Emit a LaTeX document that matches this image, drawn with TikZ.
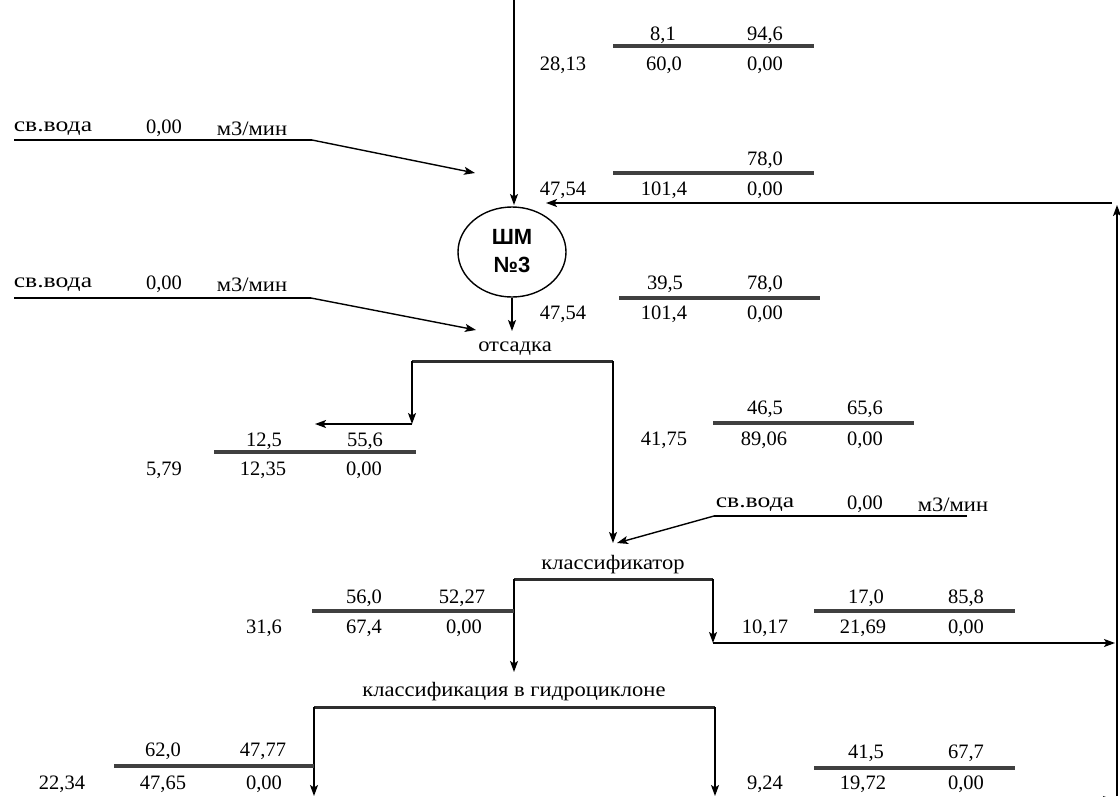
\documentclass[tikz,border=0pt]{standalone}
\usepackage{fontspec}
\setmainfont{Liberation Serif}
\newfontfamily\cyrwide{Liberation Serif}[FakeStretch=1.1]
\newfontfamily\cyrwider{Liberation Serif}[FakeStretch=1.25]
\newfontfamily\shmfont{Liberation Sans}
\usetikzlibrary{arrows.meta,shapes.geometric}
\begin{document}
\begin{tikzpicture}[x=1pt,y=-1pt,
  lbl/.style={inner sep=0pt, yshift=-1.5pt, font=\fontsize{20.5}{24}\selectfont},
  cyr/.style={inner sep=0pt, yshift=-1.5pt, font=\cyrwide\fontsize{20.5}{24}\selectfont},
  wat/.style={inner sep=0pt, yshift=-1.5pt, font=\cyrwider\fontsize{20.5}{24}\selectfont},
  tab/.style={line width=3.3pt, draw=black!75},
  proc/.style={line width=3pt, draw=black!82},
  con/.style={line width=1.4pt},
  arr/.style={con, -{Stealth[length=11pt,width=8pt,inset=2.5pt]}}]
\useasboundingbox[fill=white] (0,0) rectangle (1120,796);

% ---------- table 1 (top)
\node[lbl] (t1a) at (663,34) {8,1};
\node[lbl] (t1b) at (765,34) {94,6};
\draw[tab] (613,46) -- (814,46);
\node[lbl] (t1c) at (563,64) {28,13};
\node[lbl] (t1d) at (664,64) {60,0};
\node[lbl] (t1e) at (765,64) {0,00};

% ---------- table 2
\node[lbl] (t2b) at (765,159) {78,0};
\draw[tab] (613,173) -- (814,173);
\node[lbl] (t2c) at (563,189) {47,54};
\node[lbl] (t2d) at (664,189) {101,4};
\node[lbl] (t2e) at (765,189) {0,00};

% ---------- water 1
\node[wat] (w1a) at (53,127) {св.вода};
\node[lbl] (w1b) at (164,127) {0,00};
\node[cyr] (w1c) at (252,127) {м3/мин};
\coordinate (w1s) at (14,140);
\coordinate (w1e) at (312,140);
\coordinate (w1t) at (475,173);
\draw[con] (w1s) -- (w1e);
\draw[arr] (w1e) -- (w1t);

% ---------- mill
\node[draw, ellipse, con, minimum width=108pt, minimum height=90pt, inner sep=0pt] (shm) at (512,252) {};
\node[inner sep=0pt, align=center, font=\shmfont\bfseries\fontsize{22}{28}\selectfont] (shmt) at (512,251) {ШМ\\№3};
\coordinate (feed) at (514,0);
\draw[arr] (feed) -- (514,205) coordinate (shmtop);

% ---------- return line
\coordinate (rb) at (1117,796);
\coordinate (rt) at (1117,205);
\coordinate (rh) at (1112,203);
\coordinate (shmin) at (546,203);
\draw[arr] (rb) -- (rt);
\draw[arr] (rh) -- (shmin);

% ---------- table 3
\node[lbl] (t3a) at (665,283) {39,5};
\node[lbl] (t3b) at (765,283) {78,0};
\draw[tab] (619,298) -- (820,298);
\node[lbl] (t3c) at (563,313) {47,54};
\node[lbl] (t3d) at (664,313) {101,4};
\node[lbl] (t3e) at (765,313) {0,00};

% ---------- water 2
\node[wat] (w2a) at (53,283) {св.вода};
\node[lbl] (w2b) at (164,283) {0,00};
\node[cyr] (w2c) at (252,283) {м3/мин};
\coordinate (w2s) at (14,298);
\coordinate (w2e) at (311,298);
\coordinate (w2t) at (476,330);
\draw[con] (w2s) -- (w2e);
\draw[arr] (w2e) -- (w2t);

% ---------- jig (отсадка)
\node[cyr] (ots) at (515,347) {отсадка};
\coordinate (otsin) at (512,331);
\draw[arr] (shm.south) -- (otsin);
\coordinate (otsl) at (412,361);
\coordinate (otsr) at (613,361);
\draw[proc] (otsl) -- (otsr);
\coordinate (otsc) at (412,424);
\coordinate (otsout) at (315,424);
\draw[arr] (otsl) -- (otsc);
\draw[arr] (otsc) -- (otsout);

% ---------- table 4
\node[lbl] (t4a) at (264,440) {12,5};
\node[lbl] (t4b) at (365,440) {55,6};
\draw[tab] (214,452) -- (416,452);
\node[lbl] (t4c) at (164,469) {5,79};
\node[lbl] (t4d) at (263,469) {12,35};
\node[lbl] (t4e) at (364,469) {0,00};

% ---------- table 5
\node[lbl] (t5a) at (765,408) {46,5};
\node[lbl] (t5b) at (865,408) {65,6};
\draw[tab] (713,423) -- (914,423);
\node[lbl] (t5c) at (664,439) {41,75};
\node[lbl] (t5d) at (764,439) {89,06};
\node[lbl] (t5e) at (865,439) {0,00};

% ---------- water 3
\node[wat] (w3a) at (755,503) {св.вода};
\node[lbl] (w3b) at (865,503) {0,00};
\node[cyr] (w3c) at (953,503) {м3/мин};
\coordinate (w3s) at (967,516);
\coordinate (w3e) at (714,516);
\coordinate (w3t) at (617,543);
\draw[con] (w3s) -- (w3e);
\draw[arr] (w3e) -- (w3t);

% ---------- classifier
\node[cyr] (cls) at (613,563) {классификатор};
\coordinate (clsin) at (613,543);
\draw[arr] (otsr) -- (clsin);
\coordinate (clsl) at (514,579);
\coordinate (clsr) at (713,579);
\draw[proc] (clsl) -- (clsr);
\coordinate (hcin) at (514,672);
\draw[arr] (clsl) -- (hcin);
\coordinate (clsc) at (713,643);
\coordinate (clsout) at (1115,643);
\draw[arr] (clsr) -- (clsc);
\draw[arr] (clsc) -- (clsout);

% ---------- table 6
\node[lbl] (t6a) at (364,597) {56,0};
\node[lbl] (t6b) at (462,597) {52,27};
\draw[tab] (312,611) -- (514,611);
\node[lbl] (t6c) at (264,627) {31,6};
\node[lbl] (t6d) at (364,627) {67,4};
\node[lbl] (t6e) at (464,627) {0,00};

% ---------- table 7
\node[lbl] (t7a) at (866,597) {17,0};
\node[lbl] (t7b) at (966,597) {85,8};
\draw[tab] (814,611) -- (1015,611);
\node[lbl] (t7c) at (765,627) {10,17};
\node[lbl] (t7d) at (863,627) {21,69};
\node[lbl] (t7e) at (966,627) {0,00};

% ---------- hydrocyclone
\node[cyr] (hc) at (514,690) {классификация в гидроциклоне};
\coordinate (hcl) at (314,707);
\coordinate (hcr) at (715,707);
\draw[proc] (hcl) -- (hcr);
\coordinate (hcdl) at (314,796);
\coordinate (hcdr) at (715,796);
\draw[arr] (hcl) -- (hcdl);
\draw[arr] (hcr) -- (hcdr);
% stream leaving the frame towards the return line (only its arrow tip shows)
\coordinate (botl) at (715,800);
\coordinate (botr) at (1114,800);
\draw[arr] (botl) -- (botr);

% ---------- table 8
\node[lbl] (t8a) at (163,750) {62,0};
\node[lbl] (t8b) at (263,750) {47,77};
\draw[tab] (114,766) -- (314,766);
\node[lbl] (t8c) at (62,783) {22,34};
\node[lbl] (t8d) at (163,783) {47,65};
\node[lbl] (t8e) at (264,783) {0,00};

% ---------- table 9
\node[lbl] (t9a) at (866,752) {41,5};
\node[lbl] (t9b) at (966,752) {67,7};
\draw[tab] (814,768) -- (1015,768);
\node[lbl] (t9c) at (765,783) {9,24};
\node[lbl] (t9d) at (863,783) {19,72};
\node[lbl] (t9e) at (966,783) {0,00};
\end{tikzpicture}
\end{document}
